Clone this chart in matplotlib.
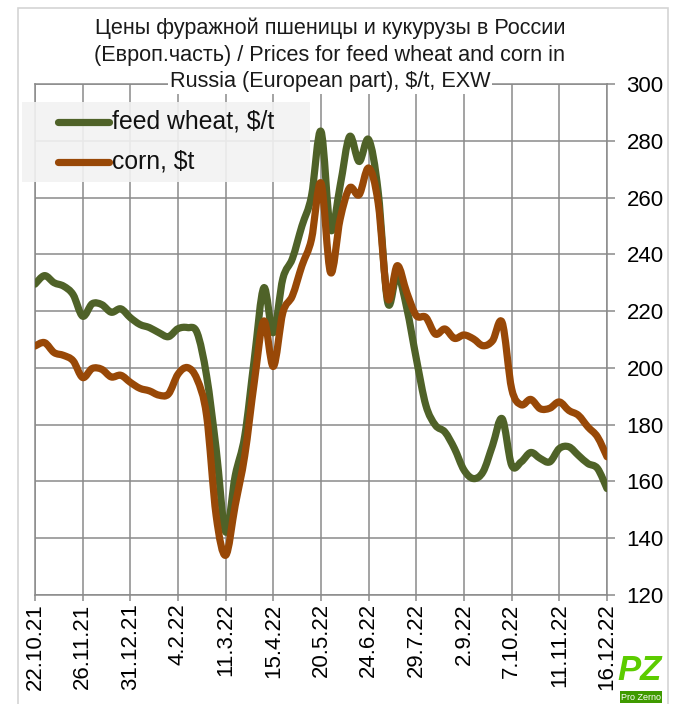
"""Feed wheat and corn prices in Russia (European part), weekly, $/t EXW."""

import matplotlib

matplotlib.use("Agg")
import matplotlib.pyplot as plt  # noqa: E402
import numpy as np  # noqa: E402
from matplotlib.lines import Line2D  # noqa: E402
from matplotlib.patches import PathPatch, Rectangle  # noqa: E402
from matplotlib.path import Path  # noqa: E402

# weekly quotes, 22.10.21 .. 16.12.22
wheat = [229.5, 232.5, 230.0, 228.8, 225.8, 218.2, 222.6, 222.3, 219.6, 220.8,
         217.7, 215.3, 214.2, 212.4, 211.0, 213.8, 214.2, 212.4, 197.2, 171.5,
         142.2, 162.0, 176.0, 203.0, 228.2, 212.4, 231.5, 238.5, 250.0, 260.5,
         283.3, 248.8, 264.0, 281.5, 272.7, 280.4, 262.0, 223.0, 233.0, 221.0,
         203.2, 186.8, 179.8, 177.4, 171.6, 164.0, 161.0, 163.4, 172.7, 182.1,
         165.7, 166.9, 170.2, 168.1, 166.9, 171.6, 172.2, 169.2, 166.3, 164.6,
         157.5]
corn = [207.7, 208.9, 205.4, 204.4, 202.5, 196.6, 199.8, 199.5, 196.8, 197.4,
        194.9, 192.8, 191.9, 190.4, 190.8, 197.8, 200.1, 196.0, 183.2, 148.0,
        134.0, 151.6, 169.1, 194.9, 216.5, 200.5, 219.5, 225.4, 236.0, 245.3,
        265.1, 233.6, 252.3, 263.4, 261.0, 270.4, 258.0, 224.5, 236.0, 226.5,
        218.4, 217.8, 211.9, 213.7, 210.4, 211.6, 210.2, 207.8, 209.6, 216.0,
        192.6, 187.0, 188.9, 185.6, 185.8, 188.0, 185.0, 183.3, 179.2, 175.7,
        168.7]
date_labels = ["22.10.21", "26.11.21", "31.12.21", "4.2.22", "11.3.22", "15.4.22",
               "20.5.22", "24.6.22", "29.7.22", "2.9.22", "7.10.22", "11.11.22",
               "16.12.22"]
series_names = ["feed wheat, $/t", "corn, $t"]
title_lines = ["Цены фуражной пшеницы и кукурузы в России",
               "(Европ.часть) / Prices for feed wheat and corn in",
               "Russia (European part), $/t, EXW"]

WHEAT_COLOR = "#4f6228"
CORN_COLOR = "#984807"
GRID = "#8a8a8a"
FONT = "Liberation Sans"
W, H = 680, 704


def fx(x):
    return x / W


def fy(y):
    return 1 - y / H


def smooth_path(x, y):
    # Excel-style smoothed line: cubic Bezier through every point
    pts = np.column_stack([x, y]).astype(float)
    n = len(pts)
    verts = [pts[0]]
    codes = [Path.MOVETO]
    for i in range(n - 1):
        p0, p1 = pts[max(i - 1, 0)], pts[i]
        p2, p3 = pts[i + 1], pts[min(i + 2, n - 1)]
        verts += [p1 + (p2 - p0) / 6, p2 - (p3 - p1) / 6, p2]
        codes += [Path.CURVE4] * 3
    return Path(verts, codes)


plt.rcParams["font.family"] = [FONT, "DejaVu Sans"]

fig = plt.figure(figsize=(W / 100, H / 100), dpi=100)

# outer frame of the picture
fig.add_artist(Rectangle((fx(18), fy(712)), fx(668 - 18), (712 - 8) / H,
                         transform=fig.transFigure, fill=False,
                         edgecolor="#d4d4d4", linewidth=1.2))

ax = fig.add_axes([fx(35), fy(595), fx(607 - 35), (595 - 84) / H])
weeks = np.arange(len(wheat))
for values, color in ((wheat, WHEAT_COLOR), (corn, CORN_COLOR)):
    ax.add_patch(PathPatch(smooth_path(weeks, values), fill=False, edgecolor=color,
                           linewidth=5.2, capstyle="round", joinstyle="round", zorder=3))

ax.set_xlim(0, 60)
ax.set_ylim(120, 300)
ax.set_xticks(weeks[::5])
ax.set_xticklabels(date_labels, rotation=90, ha="center", va="top")
ax.set_yticks(np.arange(120, 301, 20))
ax.yaxis.tick_right()
ax.set_axisbelow(True)
ax.grid(True, color=GRID, linewidth=1.1)
ax.tick_params(axis="x", direction="out", length=4.5, width=1.1, color=GRID,
               pad=1.5, labelsize=16)
ax.tick_params(axis="y", direction="out", length=6, width=1.1, color=GRID,
               pad=8, labelsize=16)
for spine in ax.spines.values():
    spine.set_color(GRID)
    spine.set_linewidth(1.1)

# title, three centred lines on a white ground
for text, y in zip(title_lines, (28, 55, 82)):
    fig.text(fx(330), fy(y), text, ha="center", va="center", fontsize=15.6,
             color="#1a1a1a", bbox=dict(facecolor="white", edgecolor="none", pad=1))

# legend drawn by hand: grey box with two thick line samples
fig.add_artist(Rectangle((fx(22), fy(182)), fx(310 - 22), (182 - 102) / H,
                         transform=fig.transFigure, facecolor="#f2f2f2",
                         edgecolor="none", alpha=0.9, zorder=5))
for name, color, y in zip(series_names, (WHEAT_COLOR, CORN_COLOR), (122, 162)):
    fig.add_artist(Line2D([fx(58), fx(109)], [fy(y), fy(y)], color=color,
                          linewidth=5.2, solid_capstyle="round", zorder=6))
    fig.text(fx(112), fy(y), name, ha="left", va="center", fontsize=17.8,
             color="#111111", zorder=6)

# ProZerno mark in the corner
fig.text(fx(640), fy(670), "PZ", ha="center", va="center", fontsize=25,
         fontweight="bold", style="italic", color="#5ccc00", zorder=7)
fig.text(fx(641), fy(697), "Pro Zerno", ha="center", va="center", fontsize=6.5,
         color="white", zorder=7,
         bbox=dict(facecolor="#3f9a00", edgecolor="none", pad=1))

fig.savefig("out.png", dpi=100)
plt.close(fig)
